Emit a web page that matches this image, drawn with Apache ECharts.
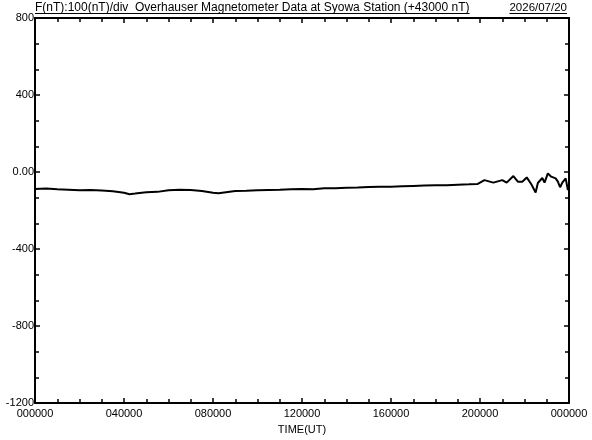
<!DOCTYPE html>
<html>
<head>
<meta charset="utf-8">
<script src="https://cdn.jsdelivr.net/npm/echarts@6/dist/echarts.min.js"></script>
<style>
html,body{margin:0;padding:0;background:#fff;}
#chart{width:592px;height:440px;}
</style>
</head>
<body>
<div id="chart"></div>
<script>
// Data (hours UT, F deviation in nT relative to +43000 nT)
var hours = [0,0.5,1,1.5,2,2.5,3,3.5,4,4.25,4.5,5,5.5,6,6.5,7,7.5,8,8.25,8.5,9,9.5,10,10.5,11,11.5,12,12.5,13,13.5,14,14.5,15,15.5,16,16.5,17,17.5,18,18.5,19,19.5,19.9,20.2,20.6,21.0,21.2,21.5,21.7,21.9,22.1,22.3,22.5,22.6,22.8,22.9,23.05,23.2,23.4,23.5,23.6,23.7,23.85,23.95,24];
var values = [-88,-86,-90,-92,-95,-93,-96,-100,-108,-115,-112,-105,-103,-95,-92,-93,-98,-108,-110,-106,-98,-97,-95,-93,-92,-90,-88,-90,-84,-84,-81,-80,-78,-77,-76,-74,-72,-70,-68,-68,-66,-64,-62,-42,-55,-42,-55,-21,-50,-50,-28,-62,-106,-57,-31,-55,-7,-24,-33,-50,-79,-55,-33,-93,-75];
var titleText = 'F(nT):100(nT)/div  Overhauser Magnetometer Data at Syowa Station (+43000 nT)';
var dateText = '2026/07/20';
var xAxisName = 'TIME(UT)';

var FONT = 'Liberation Sans';
var pts = hours.map(function(h,i){return [h, values[i]];});

function pad2(n){return (n<10?'0':'')+n;}
function measure(t, size){
  var c=document.createElement('canvas').getContext('2d');
  c.font = size+'px "'+FONT+'"';
  return c.measureText(t).width;
}
var TSIZE = 12, DSIZE = 11.5;
var tw = measure(titleText, TSIZE);
var dw = measure(dateText, DSIZE);

var chart = echarts.init(document.getElementById('chart'), null, {renderer:'canvas'});
var axisLineStyle = {color:'#000', width:2};
function mkAxisLine(){ return {show:true, onZero:false, lineStyle:axisLineStyle}; }
var tickStyle = {color:'#000', width:1.5};
var option = {
  animation:false,
  backgroundColor:'#fff',
  grid:{left:35, right:23, top:18, bottom:33},
  graphic:[
    {type:'text', x:35, y:8, style:{text:titleText, fill:'#000', font:TSIZE+'px "'+FONT+'"', verticalAlign:'middle', align:'left'}},
    {type:'text', x:567, y:8, style:{text:dateText, fill:'#000', font:DSIZE+'px "'+FONT+'"', verticalAlign:'middle', align:'right'}},
    {type:'line', shape:{x1:35, y1:13.5, x2:35+tw, y2:13.5}, style:{stroke:'#000', lineWidth:1}},
    {type:'line', shape:{x1:567-dw, y1:13.5, x2:567, y2:13.5}, style:{stroke:'#000', lineWidth:1}}
  ],
  xAxis:[{
    type:'value', min:0, max:24, interval:4, position:'bottom',
    name:xAxisName, nameLocation:'middle', nameGap:18,
    nameTextStyle:{color:'#000', fontFamily:FONT, fontSize:11},
    axisLine:mkAxisLine(),
    axisTick:{show:true, inside:true, length:5, lineStyle:tickStyle},
    minorTick:{show:true, splitNumber:4, length:4, lineStyle:tickStyle},
    splitLine:{show:false},
    axisLabel:{color:'#000', fontFamily:FONT, fontSize:11, margin:5,
      formatter:function(v){ return v===24 ? '000000' : pad2(v)+'0000'; }}
  },{
    type:'value', min:0, max:24, interval:4, position:'top',
    axisLine:mkAxisLine(),
    axisTick:{show:true, inside:true, length:5, lineStyle:tickStyle},
    minorTick:{show:true, splitNumber:4, length:4, lineStyle:tickStyle},
    splitLine:{show:false}, axisLabel:{show:false}
  }],
  yAxis:[{
    type:'value', min:-1200, max:800, interval:400, position:'left',
    axisLine:mkAxisLine(),
    axisTick:{show:true, inside:true, length:5, lineStyle:tickStyle},
    minorTick:{show:true, splitNumber:3, length:4, lineStyle:tickStyle},
    splitLine:{show:false},
    axisLabel:{color:'#000', fontFamily:FONT, fontSize:11, margin:1,
      formatter:function(v){ return v===0 ? '0.00' : String(v); }}
  },{
    type:'value', min:-1200, max:800, interval:400, position:'right',
    axisLine:mkAxisLine(),
    axisTick:{show:true, inside:true, length:5, lineStyle:tickStyle},
    minorTick:{show:true, splitNumber:3, length:4, lineStyle:tickStyle},
    splitLine:{show:false}, axisLabel:{show:false}
  }],
  series:[{
    type:'line', data:pts, xAxisIndex:0, yAxisIndex:0,
    showSymbol:false, symbol:'none',
    lineStyle:{color:'#000', width:2}
  }]
};
chart.setOption(option);
</script>
</body>
</html>
